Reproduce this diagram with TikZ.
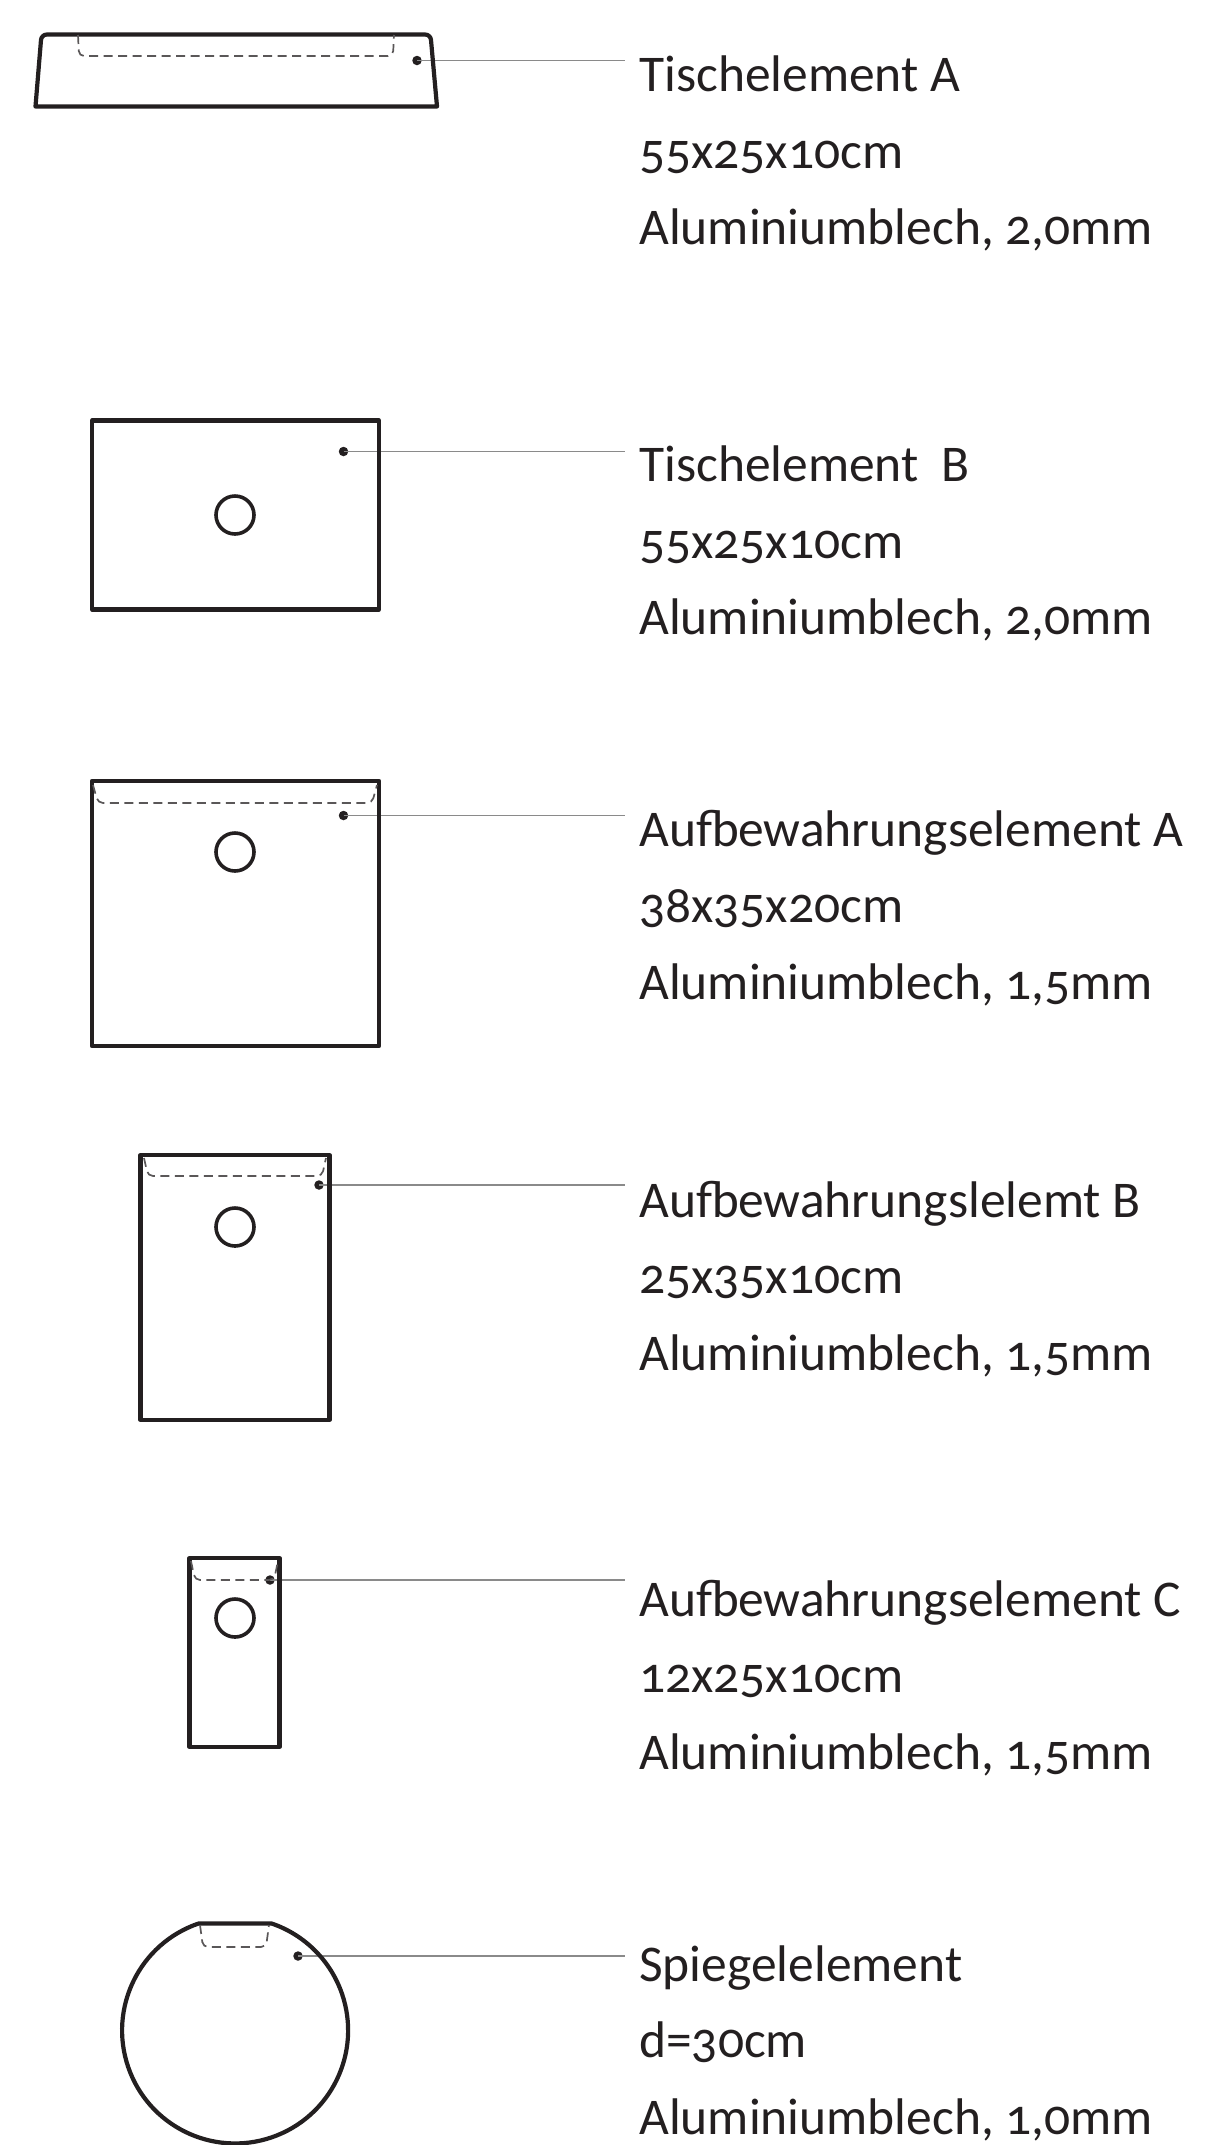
\documentclass[tikz,border=0pt]{standalone}
\usepackage{fontspec}
\setmainfont[Numbers=OldStyle]{Carlito}
\usetikzlibrary{positioning}
\definecolor{ink}{HTML}{231F20}
\definecolor{leaderGray}{HTML}{8A8A8A}
\tikzstyle{panel} = [draw=ink, rectangle, line width=4.2pt, inner sep=0pt, line join=round]
\tikzstyle{hole} = [draw=ink, circle, line width=3.6pt, inner sep=0pt, minimum size=38pt]
\tikzstyle{dot} = [fill=ink, circle, inner sep=0pt, minimum size=9.5pt]
\tikzstyle{leader} = [draw=leaderGray, line width=1.6pt]
\tikzstyle{hidden} = [draw=ink!75, line width=1.7pt, dash pattern=on 9pt off 5.5pt, rounded corners=5pt]
\tikzstyle{spec} = [anchor=north west, inner sep=0pt, align=left, text=ink, font=\fontsize{51.5}{76.5}\selectfont]

\begin{document}
\begin{tikzpicture}[x=1pt, y=-1pt]
	\useasboundingbox (0,0) rectangle (1227,2145);

	% dots and leaders first, outlines go over them
	\node [dot] (dotTableA) at (417,60.5) {};
	\node [dot] (dotTableB) at (343.5,451.5) {};
	\node [dot] (dotStoreA) at (343.5,815.5) {};
	\node [dot] (dotStoreB) at (319,1185) {};
	\node [dot] (dotStoreC) at (270,1580) {};
	\node [dot] (dotMirror) at (298,1956) {};

	\coordinate (endTableA) at (625,60.5);
	\coordinate (endTableB) at (625,451.5);
	\coordinate (endStoreA) at (625,815.5);
	\coordinate (endStoreB) at (625,1185);
	\coordinate (endStoreC) at (625,1580);
	\coordinate (endMirror) at (625,1956);

	\foreach \i in {TableA,TableB,StoreA,StoreB,StoreC,Mirror}{%
		\draw[leader] (dot\i.center) -- (end\i);}

	% Tischelement A
	\draw[panel] (35.5,106.5) -- (41,40) to[out=86,in=180] (47,34.5) -- (425,34.5) to[out=0,in=94] (431,40) -- (437,106.5) -- cycle;
	\draw[hidden] (78,35) -- (79,56) -- (393,56) -- (394,35);

	% Tischelement B
	\node [panel, minimum width=287pt, minimum height=189pt] (tableB) at (235.5,515) {};
	\node [hole] (holeTableB) at (235,515) {};

	% Aufbewahrungselement A
	\node [panel, minimum width=287pt, minimum height=265pt] (storeA) at (235.5,913.5) {};
	\node [hole] (holeStoreA) at (235,852) {};
	\draw[hidden] (93,785) -- (98,803) -- (372,803) -- (377,785);

	% Aufbewahrungselement B
	\node [panel, minimum width=189pt, minimum height=265pt] (storeB) at (235,1287.5) {};
	\node [hole] (holeStoreB) at (235,1227) {};
	\draw[hidden] (144,1158) -- (148,1176) -- (322,1176) -- (326,1158);

	% Aufbewahrungselement C
	\node [panel, minimum width=90pt, minimum height=189pt] (storeC) at (234.5,1652.5) {};
	\node [hole] (holeStoreC) at (235,1618) {};
	\draw[hidden] (191,1561) -- (195,1580) -- (274,1580) -- (278,1561);

	% Spiegelelement
	\draw[panel] (198.5,1923.5) arc (251.1:-71.1:113) -- cycle;
	\draw[hidden] (200,1925) -- (203,1947) -- (266,1947) -- (269,1925);

	\node [spec] (specTableA) at (639,56) {Tischelement A\\55x25x10cm\\Aluminiumblech, 2,0mm};
	\node [spec] (specTableB) at (639,446) {Tischelement\ \ B\\55x25x10cm\\Aluminiumblech, 2,0mm};
	\node [spec] (specStoreA) at (639,810) {Aufbewahrungselement A\\38x35x20cm\\Aluminiumblech, 1,5mm};
	\node [spec] (specStoreB) at (639,1181) {Aufbewahrungslelemt B\\25x35x10cm\\Aluminiumblech, 1,5mm};
	\node [spec] (specStoreC) at (639,1580) {Aufbewahrungselement C\\12x25x10cm\\Aluminiumblech, 1,5mm};
	\node [spec] (specMirror) at (639,1945.5) {Spiegelelement\\d=30cm\\Aluminiumblech, 1,0mm};
\end{tikzpicture}
\end{document}
